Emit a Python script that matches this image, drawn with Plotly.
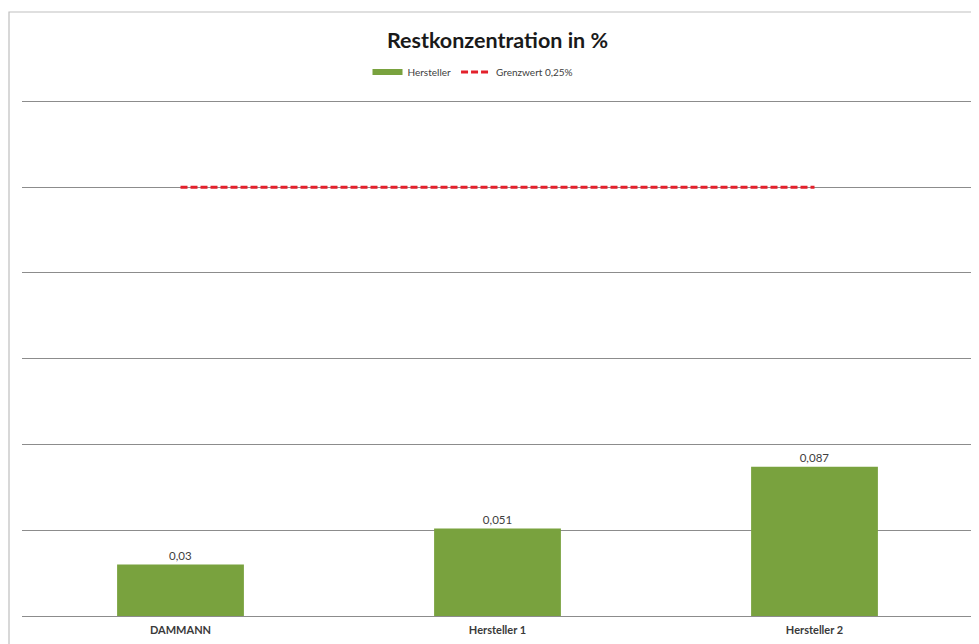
import plotly.graph_objects as go

categories = ["DAMMANN", "Hersteller 1", "Hersteller 2"]
hersteller_values = [0.03, 0.051, 0.087]
grenzwert_values = [0.25, 0.25, 0.25]
bar_labels = [str(v).replace(".", ",") for v in hersteller_values]

FONT = "Lato"
W, H = 979, 644
OFF = 8  # page body offset
ML, MR, MT, MB = 14, 14, 90, 36
pw = W - ML - MR
ph = H - MT - MB

fig = go.Figure()
fig.add_trace(go.Bar(
    x=categories, y=hersteller_values, name="Hersteller",
    marker=dict(color="#79a23e", line=dict(width=0)),
    width=0.4, text=bar_labels, textposition="outside",
    textfont=dict(family=FONT, size=11.5, color="#404040"),
    cliponaxis=False, showlegend=False,
))
# legend entry for bars (thick swatch like the original)
fig.add_trace(go.Scatter(
    x=[None], y=[None], mode="lines", name="Hersteller",
    line=dict(color="#79a23e", width=6),
))
fig.add_trace(go.Scatter(
    x=categories, y=grenzwert_values, mode="lines", name="Grenzwert 0,25%",
    line=dict(color="#e3202b", width=3, dash="7px,3px"),
))

# outer chart border
fig.add_shape(type="rect", xref="paper", yref="paper",
              x0=(9 - OFF - ML) / pw, x1=(1000 - ML) / pw,
              y0=(H - MB - 700) / ph, y1=(H - MB - (12 - OFF)) / ph,
              line=dict(color="#bfbfbf", width=1.2), layer="below")

fig.update_layout(
    width=W, height=H,
    margin=dict(l=ML, r=MR, t=MT, b=MB),
    paper_bgcolor="white", plot_bgcolor="white",
    separators=",.",
    title=dict(text="<b>Restkonzentration in %</b>", x=0.5, xref="paper",
               y=1 - (40 - OFF) / H, yanchor="middle",
               font=dict(family=FONT, size=21.5, color="#1a1a1a")),
    legend=dict(orientation="h", x=(473 - OFF - ML) / pw, xanchor="center",
                y=(H - MB - (72 - OFF)) / ph, yanchor="middle",
                font=dict(family=FONT, size=10, color="#404040"),
                itemwidth=30, tracegroupgap=0),
    xaxis=dict(showgrid=False, showline=False, ticks="",
               tickfont=dict(family=FONT, size=11, color="#3a3a3a"),
               ticklabelstandoff=6,
               range=[-0.5, 2.5]),
    yaxis=dict(range=[0, 0.302], dtick=0.05, showticklabels=False,
               showgrid=True, gridcolor="#8c8c8c", gridwidth=1.3,
               zeroline=True, zerolinecolor="#8c8c8c", zerolinewidth=1.3,
               showline=False, ticks=""),
    bargap=0.6,
)
fig.update_xaxes(tickprefix="<b>", ticksuffix="</b>")

fig.write_html("out.html")
